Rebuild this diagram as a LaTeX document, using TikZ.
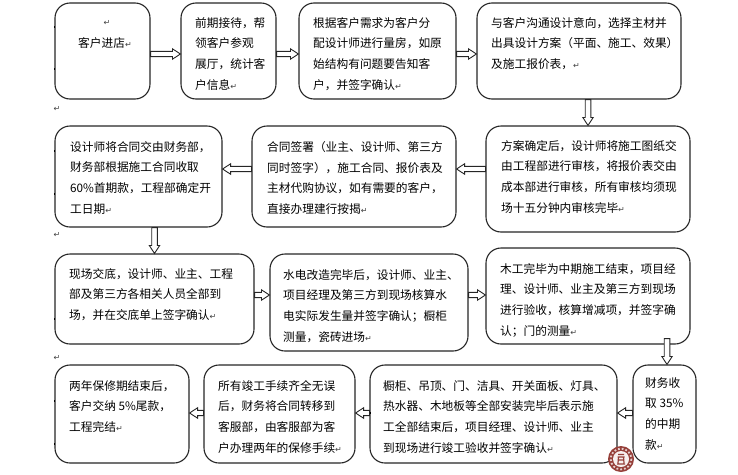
\documentclass[tikz,border=0pt]{standalone}
\usepackage{fontspec}
\setmainfont{Noto Sans CJK SC}
\newfontfamily\symfont{DejaVu Sans}
\usetikzlibrary{fit,calc}
\definecolor{edgeink}{HTML}{262626}
\definecolor{sealred}{HTML}{96403A}
\newcommand{\rt}{{\symfont\fontsize{8}{8}\selectfont\textcolor{black!75}{↵}}}
\tikzset{
  flowbox/.style={draw=edgeink,line width=1.1pt,rounded corners=15pt,inner sep=0pt,fill=white},
  flowtext/.style={anchor=north west,inner sep=0pt,align=left,text=black,font=\fontsize{11.7}{20.8}\selectfont},
  blockarrow/.style={draw=edgeink,line width=0.9pt,fill=white,line join=miter},
  retmark/.style={inner sep=0pt,text=black!75},
  tick/.style={draw=black,line width=0.7pt}
}
% horizontal hollow arrow: start anchor, end anchor, vertical offset of the shaft
\newcommand{\blkh}[3]{\draw[blockarrow] let \p1=($(#1)+(0,#3)$),\p2=(#2),\n1={ifthenelse(\x2>\x1,8pt,-8pt)} in
  (\x1,\y1+2.6pt) -- (\x2-\n1,\y1+2.6pt) -- (\x2-\n1,\y1+5.2pt) -- (\x2,\y1) -- (\x2-\n1,\y1-5.2pt) -- (\x2-\n1,\y1-2.6pt) -- (\x1,\y1-2.6pt) -- cycle;}
% vertical hollow arrow: start point, end point
\newcommand{\blkv}[2]{\draw[blockarrow] let \p1=#1,\p2=#2 in
  (\x1-2.8pt,\y1) -- (\x1-2.8pt,\y2+8pt) -- (\x1-5.2pt,\y2+8pt) -- (\x1,\y2) -- (\x1+5.2pt,\y2+8pt) -- (\x1+2.8pt,\y2+8pt) -- (\x1+2.8pt,\y1) -- cycle;}
\begin{document}
\begin{tikzpicture}[x=1pt,y=-1pt]
\useasboundingbox (0,0) rectangle (738,474);
% boxes
\node[flowbox,fit={(55,3)(150,99)}] (b1) {};
\node[flowbox,fit={(181,3)(276,99)}] (b2) {};
\node[flowbox,fit={(299,3)(456,99)}] (b3) {};
\node[flowbox,fit={(477,3)(681,99)}] (b4) {};
\node[flowbox,fit={(486,126)(690,232)}] (b5) {};
\node[flowbox,fit={(252,126)(456,227)}] (b6) {};
\node[flowbox,fit={(55,126)(222,227)}] (b7) {};
\node[flowbox,fit={(55,254)(254,344)}] (b8) {};
\node[flowbox,fit={(270,254)(468,351)}] (b9) {};
\node[flowbox,fit={(486,248)(690,344)}] (b10) {};
\node[flowbox,fit={(633,365)(696,463)}] (b11) {};
\node[flowbox,fit={(370,365)(617,463)}] (b12) {};
\node[flowbox,fit={(204,365)(355,463)}] (b13) {};
\node[flowbox,fit={(55,365)(189,463)}] (b14) {};
% texts
\node[retmark] (m0) at (107,23) {\rt};
\node[flowtext] (t1) at (78,37) {客户进店\rt};
\node[flowtext] (t2) at (195,17) {前期接待，帮\\领客户参观\\展厅，统计客\\户信息\rt};
\node[flowtext] (t3) at (313,17) {根据客户需求为客户分\\配设计师进行量房，如原\\始结构有问题要告知客\\户，并签字确认\rt};
\node[flowtext] (t4) at (491,17) {与客户沟通设计意向，选择主材并\\出具设计方案（平面、施工、效果）\\及施工报价表，\rt};
\node[flowtext] (t5) at (501,140) {方案确定后，设计师将施工图纸交\\由工程部进行审核，将报价表交由\\成本部进行审核，所有审核均须现\\场十五分钟内审核完毕\rt};
\node[flowtext] (t6) at (267,141) {合同签署（业主、设计师、第三方\\同时签字），施工合同、报价表及\\主材代购协议，如有需要的客户，\\直接办理建行按揭\rt};
\node[flowtext] (t7) at (70,141) {设计师将合同交由财务部，\\财务部根据施工合同收取\\60\%首期款，工程部确定开\\工日期\rt};
\node[flowtext] (t8) at (69,268) {现场交底，设计师、业主、工程\\部及第三方各相关人员全部到\\场，并在交底单上签字确认\rt};
\node[flowtext] (t9) at (283,269) {水电改造完毕后，设计师、业主、\\项目经理及第三方到现场核算水\\电实际发生量并签字确认；橱柜\\测量，瓷砖进场\rt};
\node[flowtext] (t10) at (500,263) {木工完毕为中期施工结束，项目经\\理、设计师、业主及第三方到现场\\进行验收，核算增减项，并签字确\\认；门的测量\rt};
\node[flowtext] (t11) at (645,377) {财务收\\取 35\%\\的中期\\款\rt};
\node[flowtext] (t12) at (383,380) {橱柜、吊顶、门、洁具、开关面板、灯具、\\热水器、木地板等全部安装完毕后表示施\\工全部结束后，项目经理、设计师、业主\\到现场进行竣工验收并签字确认\rt};
\node[flowtext] (t13) at (218,380) {所有竣工手续齐全无误\\后，财务将合同转移到\\客服部，由客服部为客\\户办理两年的保修手续\rt};
\node[flowtext] (t14) at (69,380) {两年保修期结束后，\\客户交纳 5\%尾款，\\工程完结\rt};
% stray paragraph marks
\node[retmark] (m1) at (57,109) {\rt};
\node[retmark] (m2) at (57,235) {\rt};
\node[retmark] (m3) at (57,358) {\rt};
% hollow arrows
\blkh{b1.east}{b2.west}{3}
\blkh{b2.east}{b3.west}{3}
\blkh{b3.east}{b4.west}{3}
\blkv{(b4.south -| b5.north)}{(b5.north)}
\blkh{b5.west}{b6.east}{-10}
\blkh{b6.west}{b7.east}{-7.5}
\blkv{(b7.south -| b8.north)}{(b8.north)}
\blkh{b8.east}{b9.west}{-4}
\blkh{b9.east}{b10.west}{-7.5}
\blkv{($(b10.south -| b11.north)+(2.5,-6)$)}{(b11.north)}
\blkh{b11.west}{b12.east}{-1}
\blkh{b12.west}{b13.east}{-1}
\blkh{b13.west}{b14.east}{-1}
% small ticks on box edges
\foreach \ty in {26,68,150,193,318,400,443} \draw[tick] (54,\ty) -- (54,\ty+2);
\draw[tick] (370,412) -- (370,414);
% seal
\fill[sealred] (621,459) circle (13);
\draw[white!75!sealred,line width=1.8pt,dotted] (621,459) circle (10.4);
\fill[white!92!sealred] (621,459) circle (8);
\draw[sealred,line width=1.2pt] (618,454.5) -- (624,454.5) (617.5,457) -- (624.5,457) (618.5,457) -- (618,463) (623.5,457) -- (624,463) (619,460) -- (623,460) (617,464) -- (625,464);
\end{tikzpicture}
\end{document}
